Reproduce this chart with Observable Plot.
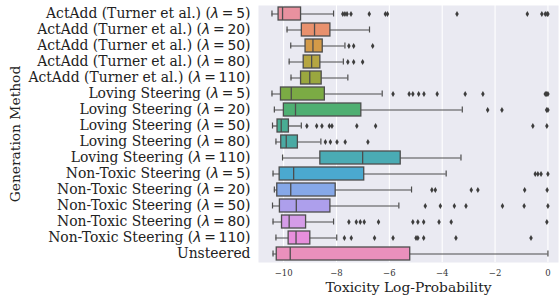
<!DOCTYPE html>
<html>
<head>
<meta charset="utf-8">
<script src="https://cdn.jsdelivr.net/npm/d3@7"></script>
<script src="https://cdn.jsdelivr.net/npm/@observablehq/plot@0.6"></script>
<style>
  html, body { margin: 0; padding: 0; background: #fff; }
  #chart { width: 559px; height: 296px; }
</style>
</head>
<body>
<div id="chart"></div>
<script>
const categories = [
  "ActAdd (Turner et al.) (λ = 5)",
  "ActAdd (Turner et al.) (λ = 20)",
  "ActAdd (Turner et al.) (λ = 50)",
  "ActAdd (Turner et al.) (λ = 80)",
  "ActAdd (Turner et al.) (λ = 110)",
  "Loving Steering (λ = 5)",
  "Loving Steering (λ = 20)",
  "Loving Steering (λ = 50)",
  "Loving Steering (λ = 80)",
  "Loving Steering (λ = 110)",
  "Non-Toxic Steering (λ = 5)",
  "Non-Toxic Steering (λ = 20)",
  "Non-Toxic Steering (λ = 50)",
  "Non-Toxic Steering (λ = 80)",
  "Non-Toxic Steering (λ = 110)",
  "Unsteered"
];
const whiskerLow  = [-10.44, -9.87, -9.73, -9.79, -9.72, -10.44, -10.35, -10.42, -10.29, -10.04, -10.40, -10.35, -10.42, -10.40, -10.29, -10.40];
const q1          = [-10.19, -9.31, -9.17, -9.24, -9.34, -10.10, -9.99, -10.23, -10.09, -8.61, -10.15, -10.24, -10.14, -10.06, -9.81, -10.26];
const medians     = [-10.04, -8.83, -8.89, -8.94, -9.01, -9.71, -9.55, -10.09, -9.90, -7.01, -9.62, -9.73, -9.52, -9.79, -9.53, -9.75];
const q3          = [-9.34, -8.23, -8.52, -8.61, -8.56, -8.44, -7.06, -9.80, -9.46, -5.57, -6.95, -8.03, -8.23, -9.15, -8.99, -5.21];
const whiskerHigh = [-8.11, -6.75, -7.68, -7.74, -7.57, -6.27, -3.24, -9.33, -8.59, -3.29, -3.85, -5.16, -5.64, -8.11, -7.99, 0.0];
const outliers = [
  [-7.76, -7.68, -7.60, -7.45, -6.76, -6.15, -6.07, -3.44, -0.78, -0.23, -0.10, -0.03, 0.0],
  [],
  [-7.53, -7.35, -6.63],
  [-7.57, -7.35, -7.01],
  [],
  [-5.86, -5.25, -5.11, -4.89, -4.69, -4.19, -3.13, -2.46, -0.10, -0.05, 0.0],
  [-2.28, -1.74, -0.05, 0.0],
  [-9.12, -8.75, -8.55, -8.27, -8.17, -7.23, -6.52, -0.57, -0.04],
  [-8.42, -8.23, -7.98, -7.67, -6.81],
  [],
  [-0.48, -0.38, -0.26, 0.0],
  [-4.39, -4.26, -2.90, -2.65, -0.88, -0.03],
  [-4.64, -4.07, -3.54, -3.10, -1.72, -0.90, 0.0],
  [-7.53, -7.25, -7.10, -6.95, -6.41, -5.11, -4.92, -4.70, -4.12, -3.66, -0.04],
  [-7.70, -7.44, -6.56, -5.86, -4.99, -4.92, -4.70, -3.48, -0.64],
  []
];
const xTicks = [-10, -8, -6, -4, -2, 0];
const palette = [
  "#e8919f", "#e8916e", "#d39a48", "#b6a642", "#9aa73f", "#7bab44", "#4faf72", "#49ad94",
  "#4aaaa4", "#4aabb4", "#4ba9cf", "#86a8e8", "#ad9fec", "#d59ce8", "#e78fdc", "#ea90bc"
];

const boxes = categories.map((name, i) => ({
  name, lo: whiskerLow[i], q1: q1[i], med: medians[i], q3: q3[i], hi: whiskerHigh[i]
}));
const outlierPts = categories.flatMap((name, i) => outliers[i].map(x => ({name, x})));

const thinDiamond = {
  draw(context, size) {
    const h = Math.sqrt(size) * 1.1;
    const w = h * 0.6;
    context.moveTo(0, -h / 2);
    context.lineTo(w / 2, 0);
    context.lineTo(0, h / 2);
    context.lineTo(-w / 2, 0);
    context.closePath();
  }
};

const lineColor = "#4d4d4d";
const fmt = d => d < 0 ? "\u2212" + Math.abs(d) : String(d);

const chart = Plot.plot({
  width: 559,
  height: 296,
  marginLeft: 258,
  marginRight: 1,
  marginTop: 5,
  marginBottom: 34,
  style: { fontFamily: "'DejaVu Serif', serif", background: "#fff" },
  x: { domain: [-10.95, 0.4] },
  y: { domain: categories, paddingInner: 0.2, paddingOuter: 0.1 },
  color: { domain: categories, range: palette },
  marks: [
    Plot.frame({ fill: "#eaeaf2", stroke: null }),
    Plot.gridX(xTicks, { stroke: "#fff", strokeOpacity: 1, strokeWidth: 1.1 }),
    Plot.axisX({ ticks: xTicks, tickSize: 0, tickPadding: 7, tickFormat: fmt, fontSize: 8.5, label: null, fill: "#333" }),
    Plot.axisY({ tickSize: 0, tickPadding: 8, fontSize: 13.9, label: null, fill: "#222" }),
    Plot.ruleY(boxes, { y: "name", x1: "lo", x2: "hi", stroke: lineColor, strokeWidth: 1.2 }),
    Plot.tickX(boxes, { y: "name", x: "lo", stroke: lineColor, strokeWidth: 1.2, insetTop: 3.5, insetBottom: 3.5 }),
    Plot.tickX(boxes, { y: "name", x: "hi", stroke: lineColor, strokeWidth: 1.2, insetTop: 3.5, insetBottom: 3.5 }),
    Plot.barX(boxes, { y: "name", x1: "q1", x2: "q3", fill: "name", stroke: lineColor, strokeWidth: 1.3 }),
    Plot.tickX(boxes, { y: "name", x: "med", stroke: lineColor, strokeWidth: 1.3 }),
    Plot.dot(outlierPts, { y: "name", x: "x", symbol: thinDiamond, r: 3, fill: "#3d3d3d", stroke: null }),
    Plot.text(["Toxicity Log-Probability"], { frameAnchor: "bottom", dy: 25, lineAnchor: "middle", fontSize: 13.8, fill: "#222" }),
    Plot.text(["Generation Method"], { frameAnchor: "left", dx: -243, rotate: -90, textAnchor: "middle", lineAnchor: "middle", fontSize: 13.8, fill: "#222" })
  ]
});

// Italic math lambda in the y tick labels
chart.querySelectorAll('[aria-label="y-axis tick label"] text').forEach(t => {
  const s = t.textContent;
  const m = s.match(/^(.*\()λ = (\d+)(\))$/);
  if (!m) return;
  t.textContent = "";
  const ns = "http://www.w3.org/2000/svg";
  const parts = [
    [m[1], null, null],
    ["λ", "'DejaVu Sans', sans-serif", "italic"],
    ["\u2009=\u2009", "'DejaVu Sans', sans-serif", null],
    [m[2], "'DejaVu Sans', sans-serif", null],
    [m[3], null, null]
  ];
  for (const [txt, ff, fs] of parts) {
    const ts = document.createElementNS(ns, "tspan");
    ts.textContent = txt;
    if (ff) ts.setAttribute("font-family", ff);
    if (fs) ts.setAttribute("font-style", fs);
    t.appendChild(ts);
  }
});

document.getElementById("chart").appendChild(chart);
</script>
</body>
</html>
